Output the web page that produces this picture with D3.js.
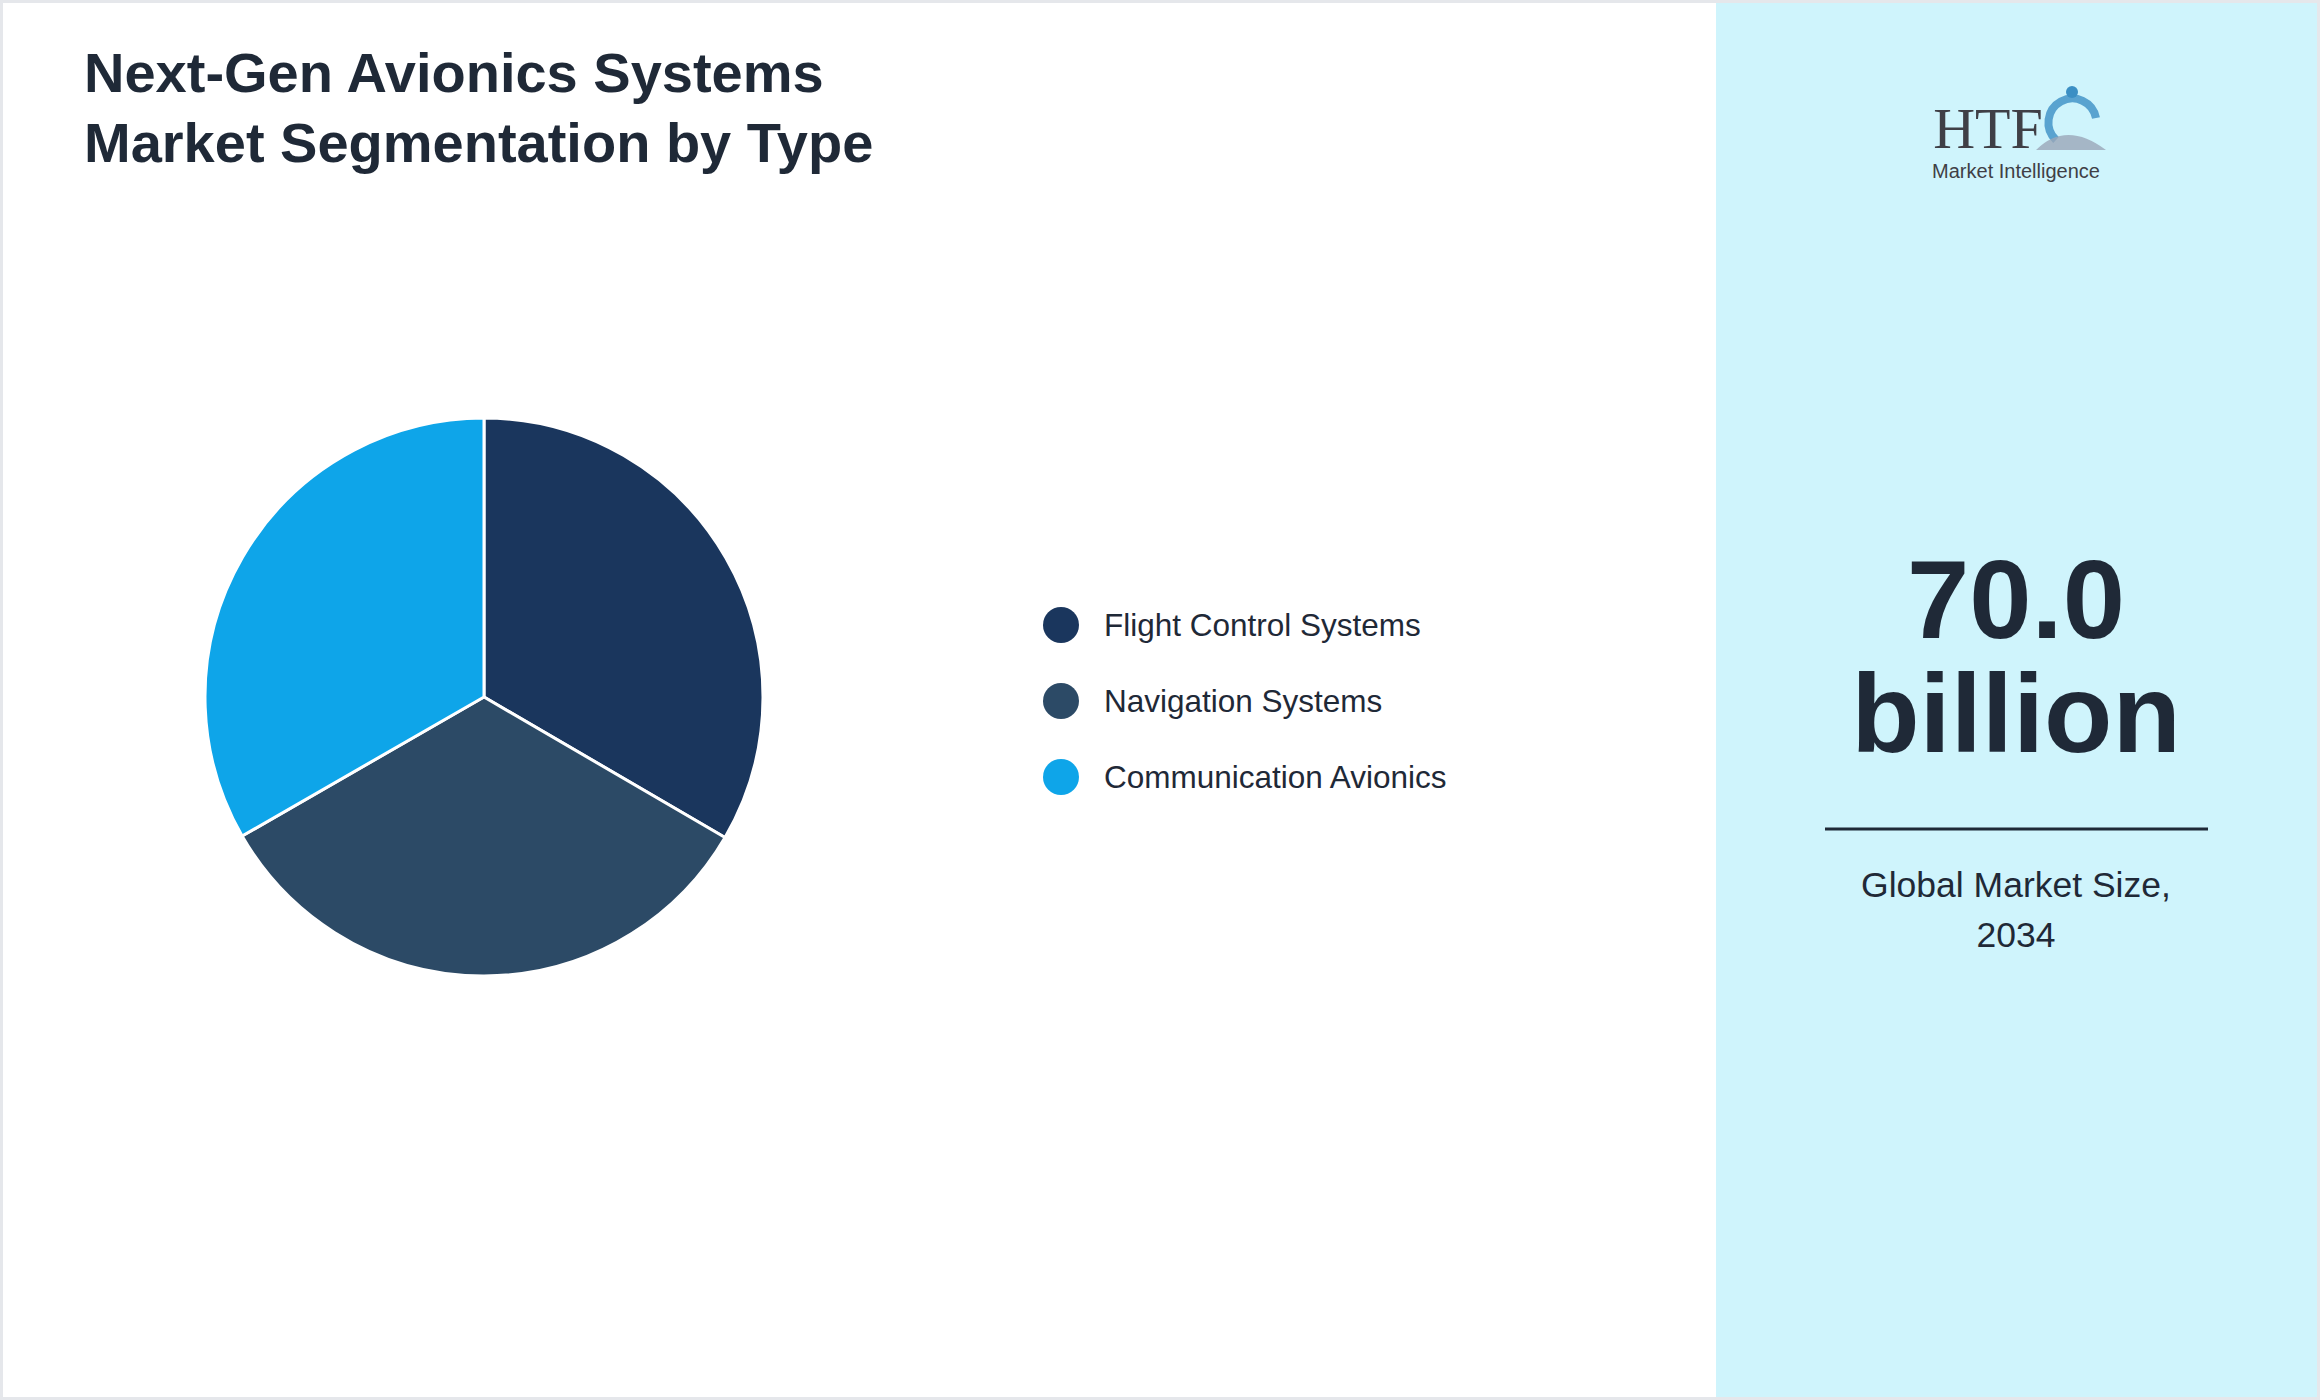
<!DOCTYPE html>
<html>
<head>
<meta charset="utf-8">
<script src="https://cdn.jsdelivr.net/npm/d3@7"></script>
<style>
body { margin: 0; background: #fff; }
svg { display: block; font-family: "Liberation Sans", Arial, sans-serif; }
</style>
</head>
<body>
<svg id="chart"></svg>
<script>
const W = 2320, H = 1400;

// data
const categories = ["Flight Control Systems", "Navigation Systems", "Communication Avionics"];
const shares = [33.4, 33.3, 33.3];
const colors = ["#1a365d", "#2c4a66", "#0ea5e9"];
const titleLines = ["Next-Gen Avionics Systems", "Market Segmentation by Type"];
const bigValue = ["70.0", "billion"];
const caption = ["Global Market Size,", "2034"];

const svg = d3.select("#chart").attr("width", W).attr("height", H);

svg.append("rect").attr("x", 0).attr("y", 0).attr("width", W).attr("height", H).attr("fill", "#fff");
svg.append("rect").attr("x", 1716).attr("y", 0).attr("width", W - 1716).attr("height", H).attr("fill", "#cff4fc");
svg.append("rect").attr("x", 1.5).attr("y", 1.5).attr("width", W - 3).attr("height", H - 3)
    .attr("fill", "none").attr("stroke", "#e5e7eb").attr("stroke-width", 3);

// title
svg.selectAll(".title").data(titleLines).enter().append("text")
    .attr("x", 84).attr("y", (d, i) => 92 + i * 70)
    .attr("font-size", 56).attr("font-weight", "bold").attr("fill", "#1f2937")
    .text(d => d);

// pie
const pie = d3.pie().sort(null).value(d => d);
const arc = d3.arc().innerRadius(0).outerRadius(279);
const g = svg.append("g").attr("transform", "translate(484,697)");
g.selectAll("path").data(pie(shares)).enter().append("path")
    .attr("d", arc)
    .attr("fill", (d, i) => colors[i])
    .attr("stroke", "#fff").attr("stroke-width", 3);

// legend
const leg = svg.append("g");
const ly = d3.scalePoint().domain(categories).range([625, 777]);
leg.selectAll("circle").data(categories).enter().append("circle")
    .attr("cx", 1061).attr("cy", d => ly(d)).attr("r", 18)
    .attr("fill", (d, i) => colors[i]);
leg.selectAll("text").data(categories).enter().append("text")
    .attr("x", 1104).attr("y", d => ly(d)).attr("dy", "0.35em")
    .attr("font-size", 31.5).attr("fill", "#1f2937")
    .text(d => d);

// logo
const logo = svg.append("g").attr("transform", "translate(2016,0)");
logo.append("text").attr("x", -28).attr("y", 148).attr("text-anchor", "middle")
    .attr("font-family", "Liberation Serif, serif").attr("font-size", 58).attr("fill", "#3f3f46")
    .text("HTF");
logo.append("path").attr("d", "M 40 140 A 24 24 0 1 1 80 118")
    .attr("fill", "none").attr("stroke", "#3b8fc4").attr("stroke-width", 8).attr("opacity", 0.8);
logo.append("path").attr("d", "M 20 150 Q 50 120 90 150 Z").attr("fill", "#9aa6b8").attr("opacity", 0.8);
logo.append("circle").attr("cx", 56).attr("cy", 92).attr("r", 6).attr("fill", "#3b8fc4");
logo.append("text").attr("x", 0).attr("y", 178).attr("text-anchor", "middle")
    .attr("font-family", "Liberation Sans, sans-serif").attr("font-size", 20).attr("fill", "#3f3f46")
    .text("Market Intelligence");

// big number
svg.selectAll(".big").data(bigValue).enter().append("text")
    .attr("x", 2016).attr("y", (d, i) => 638 + i * 114).attr("text-anchor", "middle")
    .attr("font-size", 112).attr("font-weight", "bold").attr("fill", "#1f2937")
    .text(d => d);

svg.append("line").attr("x1", 1825).attr("x2", 2208).attr("y1", 829).attr("y2", 829)
    .attr("stroke", "#1f2937").attr("stroke-width", 3);

svg.selectAll(".cap").data(caption).enter().append("text")
    .attr("x", 2016).attr("y", (d, i) => 897 + i * 50).attr("text-anchor", "middle")
    .attr("font-size", 35.5).attr("fill", "#1f2937")
    .text(d => d);
</script>
</body>
</html>
